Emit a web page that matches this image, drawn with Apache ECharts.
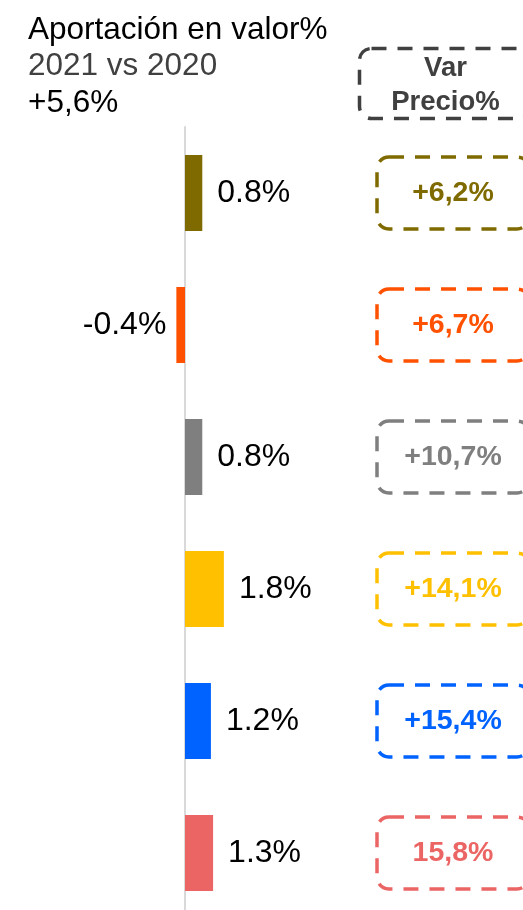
<!DOCTYPE html>
<html>
<head>
<meta charset="utf-8">
<script src="https://cdn.jsdelivr.net/npm/echarts@6/dist/echarts.min.js"></script>
<style>
  html, body { margin: 0; padding: 0; background: #fff; }
  #chart { width: 523px; height: 910px; }
</style>
</head>
<body>
<div id="chart"></div>
<script>
// datos
const categorias = ['Cat 1', 'Cat 2', 'Cat 3', 'Cat 4', 'Cat 5', 'Cat 6'];
const aportacion = [0.8, -0.4, 0.8, 1.8, 1.2, 1.3];
const varPrecio = ['+6,2%', '+6,7%', '+10,7%', '+14,1%', '+15,4%', '15,8%'];
const colores = ['#7f6a00', '#ff5100', '#7f7f7f', '#ffc000', '#0062ff', '#ec6565'];

const FONT = 'Liberation Sans, Arial, sans-serif';

const chart = echarts.init(document.getElementById('chart'));

const option = {
  animation: false,
  title: {
    left: 23,
    top: 7,
    text: '{a|Aportación en valor%}\n{b|2021 vs 2020}\n{a|+5,6%}',
    textStyle: {
      rich: {
        a: { fontSize: 31.5, fontWeight: 'normal', color: '#000', lineHeight: 36.5, fontFamily: FONT },
        b: { fontSize: 31.5, fontWeight: 'normal', color: '#404040', lineHeight: 36.5, fontFamily: FONT }
      }
    }
  },
  // la rejilla sobrepasa el borde inferior a propósito
  grid: { left: 141.8, width: 129.6, top: 127, height: 792, outerBoundsMode: 'none', containLabel: false },
  xAxis: {
    type: 'value', min: -2, max: 4,
    show: false
  },
  yAxis: {
    type: 'category',
    data: categorias,
    inverse: true,
    axisLine: { show: true, onZero: true, lineStyle: { color: '#d9d9d9', width: 2 } },
    axisTick: { show: false },
    axisLabel: { show: false },
    splitLine: { show: false }
  },
  graphic: [{
    type: 'group',
    left: 357,
    top: 46,
    children: [{
      type: 'rect',
      shape: { x: 0, y: 0, width: 170, height: 70, r: 12 },
      style: { fill: 'none', stroke: '#404040', lineWidth: 3.5, lineDash: [15, 11] }
    }, {
      type: 'text',
      x: 86, y: 37,
      style: {
        text: 'Var\nPrecio%', fill: '#404040', font: 'bold 27.5px ' + FONT,
        align: 'center', verticalAlign: 'middle', lineHeight: 34
      }
    }]
  }],
  series: [{
    type: 'bar',
    barWidth: '57.6%',
    data: aportacion.map((v, i) => ({
      value: v,
      itemStyle: { color: colores[i] },
      label: { position: v < 0 ? 'left' : 'right', distance: v < 0 ? 10 : 15 }
    })),
    label: {
      show: true,
      fontSize: 32,
      fontFamily: FONT,
      color: '#000',
      formatter: p => p.value.toFixed(1) + '%'
    }
  }, {
    type: 'custom',
    coordinateSystem: 'cartesian2d',
    data: varPrecio.map((t, i) => [0, i]),
    encode: { x: 0, y: 1 },
    renderItem: (params, api) => {
      const y = api.coord([0, api.value(1)])[1];
      const i = params.dataIndex;
      return {
        type: 'group',
        children: [{
          type: 'rect',
          shape: { x: 377, y: y - 36, width: 152, height: 72, r: 12 },
          style: { fill: 'none', stroke: colores[i], lineWidth: 3.5, lineDash: [15, 11] }
        }, {
          type: 'text',
          x: 453, y: y,
          style: {
            text: varPrecio[i], fill: colores[i], font: 'bold 28.5px ' + FONT,
            align: 'center', verticalAlign: 'middle'
          }
        }]
      };
    }
  }]
};

chart.setOption(option);
window.addEventListener('resize', () => chart.resize());
</script>
</body>
</html>
